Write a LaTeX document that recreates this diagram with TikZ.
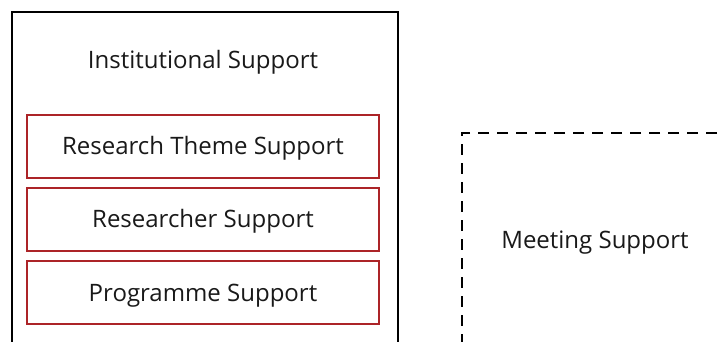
\documentclass[tikz,border=0pt]{standalone}
\usepackage{fontspec}
\setmainfont{Open Sans}
\begin{document}
\begin{tikzpicture}[x=1pt,y=-1pt,
  label text/.style={font=\fontsize{24}{28}\selectfont, text=black!90, text height=17pt, text depth=0pt},
  outerbox/.style={draw=black, line width=2.4pt, inner sep=0pt},
  subbox/.style={draw=supportred, line width=2.4pt, minimum width=352pt, minimum height=63pt, inner sep=0pt, label text},
  dashbox/.style={draw=black, line width=2.4pt, dash pattern=on 11pt off 8pt, inner sep=0pt}]
  \definecolor{supportred}{RGB}{172,36,40}
  \useasboundingbox (0,0) rectangle (721,342);
  \clip (0,0) rectangle (721,342);
  % institutional frame, running off the lower edge
  \node[outerbox, minimum width=386pt, minimum height=380pt, anchor=north west] (inst) at (11,11) {};
  \node[label text, inner sep=0pt] (insttitle) at (203,60.5) {Institutional Support};
  \node[subbox] (theme) at (203,146.5) {Research Theme Support};
  \node[subbox] (researcher) at (203,219.5) {Researcher Support};
  \node[subbox] (programme) at (203,292.5) {Programme Support};
  % meeting support frame, running off the right and lower edges
  \node[dashbox, minimum width=330pt, minimum height=260pt, anchor=north west] (meeting) at (461,132) {};
  \node[label text, inner sep=0pt] (meetingtitle) at (595,239.5) {Meeting Support};
\end{tikzpicture}
\end{document}
